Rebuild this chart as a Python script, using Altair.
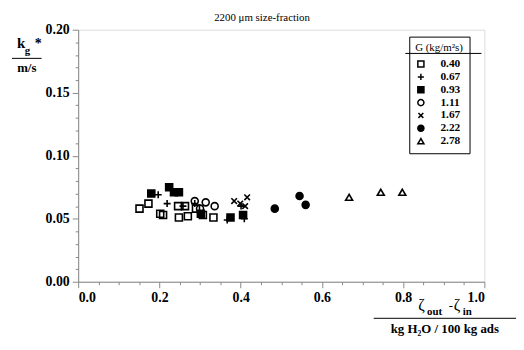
import altair as alt
import pandas as pd

groups = ["0.40", "0.67", "0.93", "1.11", "1.67", "2.22", "2.78"]

x_040 = [0.151, 0.173, 0.202, 0.209, 0.246, 0.248, 0.263, 0.270, 0.290, 0.307, 0.333]
y_040 = [0.058, 0.062, 0.054, 0.053, 0.060, 0.051, 0.060, 0.052, 0.058, 0.053, 0.051]
x_067 = [0.197, 0.219, 0.258, 0.287, 0.367, 0.401, 0.409]
y_067 = [0.069, 0.062, 0.060, 0.062, 0.049, 0.060, 0.050]
x_093 = [0.180, 0.224, 0.236, 0.248, 0.302, 0.375, 0.406]
y_093 = [0.070, 0.075, 0.071, 0.071, 0.054, 0.051, 0.053]
x_111 = [0.287, 0.314, 0.336, 0.300]
y_111 = [0.064, 0.063, 0.060, 0.058]
x_167 = [0.384, 0.399, 0.416, 0.411]
y_167 = [0.064, 0.062, 0.067, 0.060]
x_222 = [0.484, 0.545, 0.560]
y_222 = [0.058, 0.068, 0.061]
x_278 = [0.667, 0.745, 0.798]
y_278 = [0.067, 0.071, 0.071]

x_ticks = [0.0, 0.05, 0.1, 0.15, 0.2, 0.25, 0.3, 0.35, 0.4, 0.45, 0.5,
           0.55, 0.6, 0.65, 0.7, 0.75, 0.8, 0.85, 0.9, 0.95, 1.0]
y_ticks = [0.0, 0.01, 0.02, 0.03, 0.04, 0.05, 0.06, 0.07, 0.08, 0.09, 0.1,
           0.11, 0.12, 0.13, 0.14, 0.15, 0.16, 0.17, 0.18, 0.19, 0.2]

series = [x_040, x_067, x_093, x_111, x_167, x_222, x_278]
yseries = [y_040, y_067, y_093, y_111, y_167, y_222, y_278]
rows = []
for g, xs, ys in zip(groups, series, yseries):
    for xv, yv in zip(xs, ys):
        rows.append({"G": g, "x": xv, "y": yv})
df = pd.DataFrame(rows)

shapes = ["square", "M-1,0L1,0M0,-1L0,1", "square", "circle",
          "M-0.8,-0.8L0.8,0.8M-0.8,0.8L0.8,-0.8", "circle", "triangle-up"]
fills = ["transparent", "transparent", "black", "transparent", "transparent", "black", "transparent"]
strokes = ["black"] * 7

SERIF = "Liberation Serif"

legend_kw = dict(orient="none", legendX=335, legendY=7, title="G (kg/m²s)",
                 strokeColor="black", padding=6,
                 titleFont=SERIF, titleFontSize=11, titleFontWeight="normal",
                 titlePadding=5,
                 labelFont=SERIF, labelFontSize=11.5, labelFontWeight="bold",
                 labelOffset=14, rowPadding=0, symbolSize=38,
                 symbolStrokeWidth=1.5)

points = alt.Chart(df).mark_point(size=50, strokeWidth=1.6, opacity=1).encode(
    x=alt.X("x:Q", scale=alt.Scale(domain=[0, 1], nice=False),
            axis=alt.Axis(values=x_ticks, title=None,
                          labelExpr="abs(datum.value*5 - round(datum.value*5)) < 0.001 ? format(datum.value, '.1f') : ''",
                          tickSize={"condition": {"test": "abs(datum.value*5 - round(datum.value*5)) < 0.001", "value": 6}, "value": 3},
                          labelFontSize=14, labelFontWeight="bold", labelFont=SERIF, labelPadding=3,
                          grid=False)),
    y=alt.Y("y:Q", scale=alt.Scale(domain=[0, 0.2], nice=False),
            axis=alt.Axis(values=y_ticks, title=None,
                          labelExpr="abs(datum.value*20 - round(datum.value*20)) < 0.001 ? format(datum.value, '.2f') : ''",
                          tickSize={"condition": {"test": "abs(datum.value*20 - round(datum.value*20)) < 0.001", "value": 6}, "value": 3},
                          labelFontSize=14, labelFontWeight="bold", labelFont=SERIF, labelPadding=3,
                          grid=False)),
    shape=alt.Shape("G:N", scale=alt.Scale(domain=groups, range=shapes), legend=alt.Legend(**legend_kw)),
    fill=alt.Fill("G:N", scale=alt.Scale(domain=groups, range=fills), legend=alt.Legend(**legend_kw)),
    stroke=alt.Stroke("G:N", scale=alt.Scale(domain=groups, range=strokes), legend=alt.Legend(**legend_kw)),
)

one = pd.DataFrame({"_": [0]})


def txt(s, x, y, size=12, weight="normal", align="left", font=SERIF):
    return alt.Chart(one).mark_text(align=align, baseline="alphabetic", font=font,
                                    fontSize=size, fontWeight=weight, color="black").encode(
        x=alt.value(x), y=alt.value(y), text=alt.value(s))


def rule(x1, x2, y):
    return alt.Chart(one).mark_rule(color="black", strokeWidth=1).encode(
        x=alt.value(x1), x2=alt.value(x2), y=alt.value(y))


layers = [
    points,
    txt("2200 μm size-fraction", 186, -9, size=11, align="center"),
    # y title
    txt("k", -62, 19, size=15, weight="bold"),
    txt("g", -54, 25, size=11, weight="bold"),
    txt("*", -44, 18, size=14, weight="bold"),
    rule(-67, -37, 29),
    txt("m/s", -52, 43, size=13, weight="bold", align="center"),
    # x title
    txt("ζ", 344, 284, size=16),
    txt("out", 353, 289, size=11, weight="bold"),
    txt("-", 375, 283, size=13),
    txt("ζ", 380, 284, size=16),
    txt("in", 389, 289, size=11, weight="bold"),
    rule(299, 443, 292),
    txt("kg H₂O / 100 kg ads", 371, 307, size=13, weight="bold", align="center"),
    rule(331, 408, 24),
]

chart = alt.layer(*layers).properties(
    width=411, height=255,
    autosize=alt.AutoSizeParams(type="none"),
    padding={"left": 71, "top": 20, "right": 32, "bottom": 58},
).configure_view(stroke="black", strokeWidth=1.3).configure_axis(
    domainColor="black", tickColor="black", domainWidth=1.3, tickWidth=1.2, labelColor="black"
).configure(background="white")

chart.save("out.html", embed_options={"renderer": "svg", "actions": False})
